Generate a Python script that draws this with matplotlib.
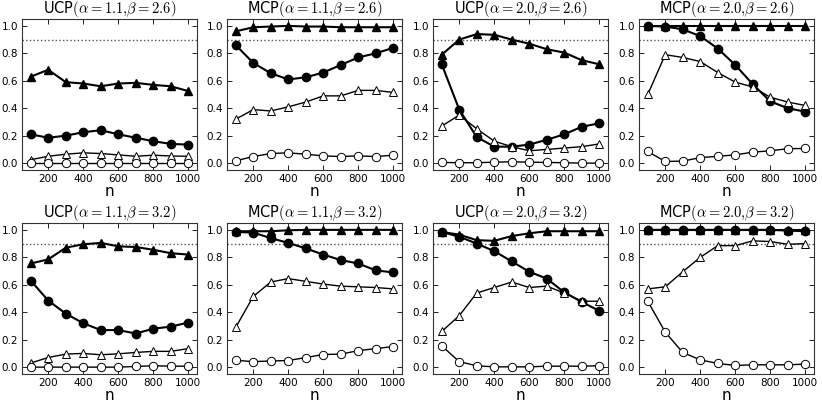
import numpy as np
import matplotlib
matplotlib.use('Agg')
import matplotlib.pyplot as plt

plt.rcParams['mathtext.fontset'] = 'cm'
plt.rcParams['xtick.direction'] = 'in'
plt.rcParams['ytick.direction'] = 'in'
plt.rcParams['xtick.top'] = True
plt.rcParams['ytick.right'] = True

n = [100, 200, 300, 400, 500, 600, 700, 800, 900, 1000]

titles = [r'UCP$(\alpha=1.1{,}\beta=2.6)$', r'MCP$(\alpha=1.1{,}\beta=2.6)$',
          r'UCP$(\alpha=2.0{,}\beta=2.6)$', r'MCP$(\alpha=2.0{,}\beta=2.6)$',
          r'UCP$(\alpha=1.1{,}\beta=3.2)$', r'MCP$(\alpha=1.1{,}\beta=3.2)$',
          r'UCP$(\alpha=2.0{,}\beta=3.2)$', r'MCP$(\alpha=2.0{,}\beta=3.2)$']

# filled triangles
tri_filled = [
    [0.63, 0.68, 0.59, 0.58, 0.56, 0.58, 0.585, 0.57, 0.56, 0.525],
    [0.96, 0.99, 0.995, 1.0, 0.995, 0.995, 0.99, 0.99, 0.99, 0.99],
    [0.79, 0.90, 0.94, 0.935, 0.90, 0.87, 0.83, 0.805, 0.75, 0.72],
    [1.0, 1.0, 1.0, 1.0, 1.0, 1.0, 1.0, 1.0, 1.0, 1.0],
    [0.755, 0.785, 0.87, 0.895, 0.905, 0.88, 0.875, 0.855, 0.83, 0.82],
    [0.99, 0.99, 0.99, 0.997, 1.0, 1.0, 1.0, 1.0, 1.0, 1.0],
    [0.985, 0.965, 0.925, 0.92, 0.955, 0.975, 0.99, 0.99, 0.99, 0.99],
    [1.0, 1.0, 1.0, 1.0, 1.0, 1.0, 1.0, 1.0, 1.0, 1.0],
]
# filled circles
circ_filled = [
    [0.21, 0.185, 0.20, 0.225, 0.24, 0.21, 0.185, 0.16, 0.14, 0.135],
    [0.86, 0.73, 0.655, 0.61, 0.625, 0.66, 0.715, 0.77, 0.80, 0.84],
    [0.72, 0.39, 0.19, 0.12, 0.12, 0.135, 0.17, 0.21, 0.265, 0.29],
    [1.0, 0.995, 0.975, 0.925, 0.835, 0.715, 0.575, 0.45, 0.40, 0.375],
    [0.63, 0.485, 0.39, 0.32, 0.27, 0.27, 0.245, 0.28, 0.295, 0.325],
    [0.985, 0.98, 0.94, 0.905, 0.865, 0.82, 0.78, 0.755, 0.705, 0.69],
    [0.985, 0.95, 0.90, 0.845, 0.77, 0.695, 0.645, 0.545, 0.475, 0.41],
    [1.0, 1.0, 1.0, 1.0, 1.0, 1.0, 1.0, 1.0, 0.995, 0.99],
]
# open triangles
tri_open = [
    [0.025, 0.05, 0.065, 0.075, 0.07, 0.06, 0.05, 0.058, 0.052, 0.05],
    [0.32, 0.39, 0.38, 0.41, 0.445, 0.49, 0.49, 0.53, 0.53, 0.515],
    [0.27, 0.35, 0.25, 0.16, 0.12, 0.09, 0.10, 0.11, 0.12, 0.14],
    [0.50, 0.79, 0.77, 0.74, 0.66, 0.59, 0.555, 0.48, 0.445, 0.42],
    [0.03, 0.07, 0.095, 0.10, 0.09, 0.097, 0.107, 0.115, 0.115, 0.135],
    [0.29, 0.515, 0.62, 0.645, 0.625, 0.605, 0.59, 0.585, 0.58, 0.57],
    [0.26, 0.375, 0.54, 0.58, 0.62, 0.58, 0.59, 0.54, 0.48, 0.48],
    [0.57, 0.585, 0.695, 0.80, 0.885, 0.885, 0.92, 0.915, 0.895, 0.90],
]
# open circles
circ_open = [
    [0.0, 0.0, 0.0, 0.0, 0.0, 0.0, 0.0, 0.0, 0.0, 0.0],
    [0.017, 0.048, 0.07, 0.075, 0.065, 0.053, 0.048, 0.053, 0.048, 0.058],
    [0.005, 0.003, 0.003, 0.007, 0.01, 0.007, 0.005, 0.003, 0.0, 0.0],
    [0.085, 0.012, 0.015, 0.04, 0.05, 0.06, 0.08, 0.09, 0.105, 0.107],
    [0.0, 0.0, 0.0, 0.0, 0.0, 0.0, 0.005, 0.01, 0.007, 0.007],
    [0.05, 0.04, 0.045, 0.048, 0.07, 0.092, 0.095, 0.12, 0.135, 0.15],
    [0.155, 0.04, 0.01, 0.002, 0.002, 0.002, 0.007, 0.007, 0.007, 0.01],
    [0.48, 0.255, 0.107, 0.053, 0.027, 0.012, 0.017, 0.017, 0.017, 0.022],
]

fig = plt.figure(figsize=(8.22, 4.07), dpi=100)

lefts = [22, 227, 433, 639]
tops = [19, 223]
w_px, h_px = 175, 151
W, H = 822.0, 407.0

for k in range(8):
    r, c = divmod(k, 4)
    ax = fig.add_axes([lefts[c] / W, 1 - (tops[r] + h_px) / H, w_px / W, h_px / H])
    ax.axhline(0.9, color='#555555', linestyle=':', linewidth=1)
    ax.plot(n, tri_filled[k], '-^', color='k', mfc='k', mec='k', ms=6, lw=1.5)
    ax.plot(n, circ_filled[k], '-o', color='k', mfc='k', mec='k', ms=6, lw=1.5)
    ax.plot(n, tri_open[k], '-^', color='k', mfc='white', mec='k', ms=6, lw=1.0, mew=0.7)
    ax.plot(n, circ_open[k], '-o', color='k', mfc='white', mec='k', ms=6, lw=1.0, mew=0.7)
    ax.set_xlim(50, 1050)
    ax.set_ylim(-0.05, 1.05)
    ax.set_xticks([200, 400, 600, 800, 1000])
    ax.set_yticks([0.0, 0.2, 0.4, 0.6, 0.8, 1.0])
    ax.set_yticklabels(['0.0', '0.2', '0.4', '0.6', '0.8', '1.0'])
    ax.tick_params(labelsize=7.5, length=3.5, width=0.6, pad=3)
    for sp in ax.spines.values():
        sp.set_linewidth(0.8)
        sp.set_color('#333333')
    ax.set_title(titles[k], fontsize=10.5, pad=2)
    ax.set_xlabel('n', fontsize=11, labelpad=0)

fig.savefig('out.png', dpi=100)
